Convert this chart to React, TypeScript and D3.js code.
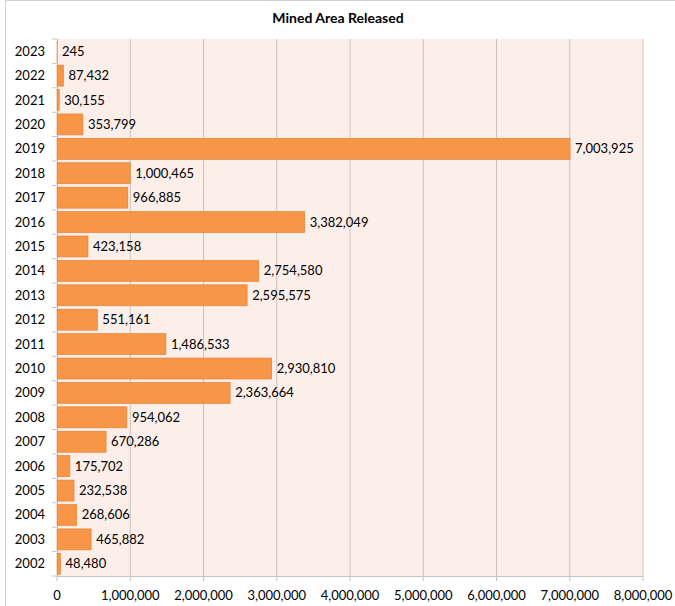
import React from "react";
import * as d3 from "d3";

const years = ["2023","2022","2021","2020","2019","2018","2017","2016","2015","2014","2013","2012","2011","2010","2009","2008","2007","2006","2005","2004","2003","2002"];
const values = [245,87432,30155,353799,7003925,1000465,966885,3382049,423158,2754580,2595575,551161,1486533,2930810,2363664,954062,670286,175702,232538,268606,465882,48480];
const xTicks = [0,1000000,2000000,3000000,4000000,5000000,6000000,7000000,8000000];
const title = "Mined Area Released";

export default function App() {
  const W = 675, H = 606;
  const left = 57, right = 643, top = 39, bottom = 576;
  const x = d3.scaleLinear().domain([0, 8000000]).range([left, right]);
  const y = d3.scaleBand().domain(years).range([top, bottom]).paddingInner(0.14).paddingOuter(0.07);
  const step = (bottom - top) / years.length;
  const fmt = d3.format(",");
  const font = "Lato, 'Open Sans', sans-serif";
  return (
    <svg width={W} height={H} style={{ position: "absolute", left: 0, top: 0, fontFamily: font }}>
      <rect x={0} y={0} width={W} height={H} fill="#fff" />
      <line x1={5.5} y1={0} x2={5.5} y2={H} stroke="#d0d0d0" />
      <line x1={5} y1={0.5} x2={W} y2={0.5} stroke="#d0d0d0" />
      <text x={338} y={23} textAnchor="middle" fontSize={14} fontWeight="bold" fill="#000">{title}</text>
      <rect x={left} y={top} width={right - left} height={bottom - top} fill="#FCEEE9" />
      {xTicks.map((t) => (
        <g key={t}>
          {t > 0 && <line x1={x(t)} x2={x(t)} y1={top} y2={bottom} stroke="#c8c2c0" strokeWidth={1} />}
          <line x1={x(t)} x2={x(t)} y1={bottom} y2={bottom + 5} stroke="#c8c2c0" />
          <text x={x(t)} y={bottom + 24} textAnchor="middle" fontSize={13} fill="#000">{fmt(t)}</text>
        </g>
      ))}
      <line x1={left} x2={right} y1={bottom + 0.5} y2={bottom + 0.5} stroke="#c8c2c0" />
      <line x1={left + 0.5} x2={left + 0.5} y1={top} y2={bottom} stroke="#c8c2c0" />
      {d3.range(years.length + 1).map((i) => (
        <line key={i} x1={left - 5} x2={left} y1={top + i * step} y2={top + i * step} stroke="#c8c2c0" />
      ))}
      {years.map((yr, i) => {
        const yy = y(yr)!;
        const bw = y.bandwidth();
        const v = values[i];
        return (
          <g key={yr}>
            <rect x={left} y={yy} width={Math.max(0, x(v) - left)} height={bw} fill="#F79646" stroke="#E07D2E" strokeWidth={0.6} />
            <text x={left - 12} y={yy + bw / 2 + 4.5} textAnchor="end" fontSize={13} fill="#000">{yr}</text>
            <text x={x(v) + 5} y={yy + bw / 2 + 4.5} textAnchor="start" fontSize={13} fill="#000">{fmt(v)}</text>
          </g>
        );
      })}
    </svg>
  );
}
